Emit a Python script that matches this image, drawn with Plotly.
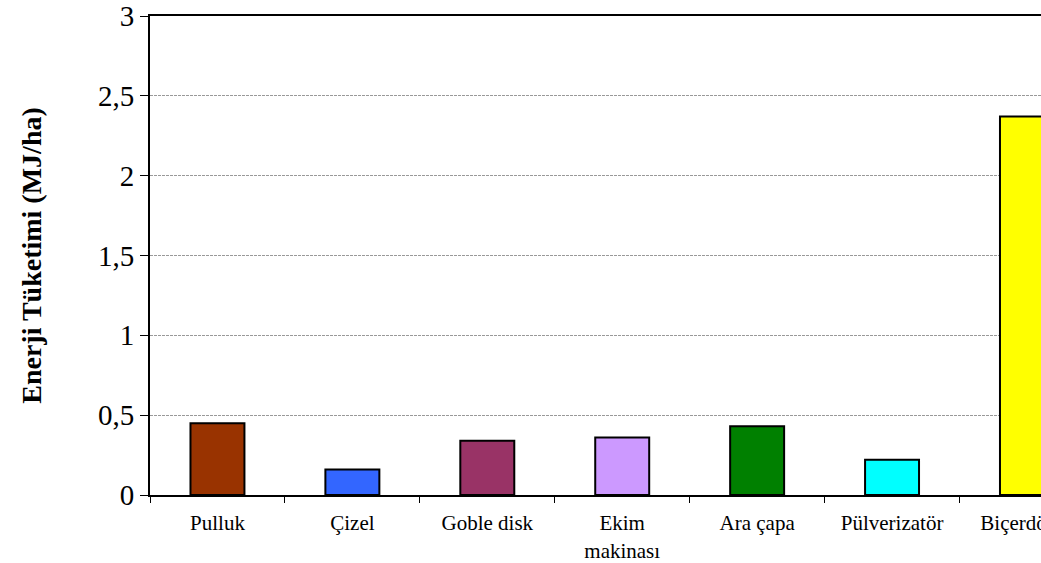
import plotly.graph_objects as go

categories = ["Pulluk", "Çizel", "Goble disk", "Ekim<br>makinası", "Ara çapa", "Pülverizatör", "Biçerdöver"]
values = [0.45, 0.16, 0.34, 0.36, 0.43, 0.22, 2.37]
colors = ["#993300", "#3366FF", "#993366", "#CC99FF", "#008000", "#00FFFF", "#FFFF00"]
y_ticks = [0, 0.5, 1, 1.5, 2, 2.5, 3]
y_tick_labels = ["0", "0,5", "1", "1,5", "2", "2,5", "3"]

serif = "Liberation Serif, Times New Roman, serif"

fig = go.Figure()
fig.add_trace(go.Bar(
    x=categories, y=values,
    marker=dict(color=colors, line=dict(color="black", width=2)),
    width=0.4,
))

fig.update_layout(
    width=1041, height=563,
    margin=dict(l=150, r=0, t=16, b=68, autoexpand=False),
    paper_bgcolor="white", plot_bgcolor="white",
    showlegend=False,
    font=dict(family=serif, color="black"),
)
fig.update_xaxes(
    type="category",
    range=[-0.5, 6.104],
    automargin=False,
    showline=True, linecolor="black", linewidth=2,
    mirror=True,
    ticks="outside", ticklen=6, tickcolor="black", tickwidth=1,
    tickson="boundaries",
    ticklabelstandoff=8,
    showgrid=False,
    tickfont=dict(size=21, family=serif),
)
fig.update_yaxes(
    range=[0, 3],
    automargin=False,
    tickvals=y_ticks, ticktext=y_tick_labels,
    showline=True, linecolor="black", linewidth=2,
    ticks="outside", ticklen=8, tickcolor="black",
    showgrid=True, gridcolor="#999999", gridwidth=1, griddash="3px,1px",
    tickfont=dict(size=29, family=serif),
    zeroline=False,
    title=dict(text="<b>Enerji Tüketimi (MJ/ha)</b>", font=dict(size=28, family=serif), standoff=48),
)

fig.write_html("out.html")
